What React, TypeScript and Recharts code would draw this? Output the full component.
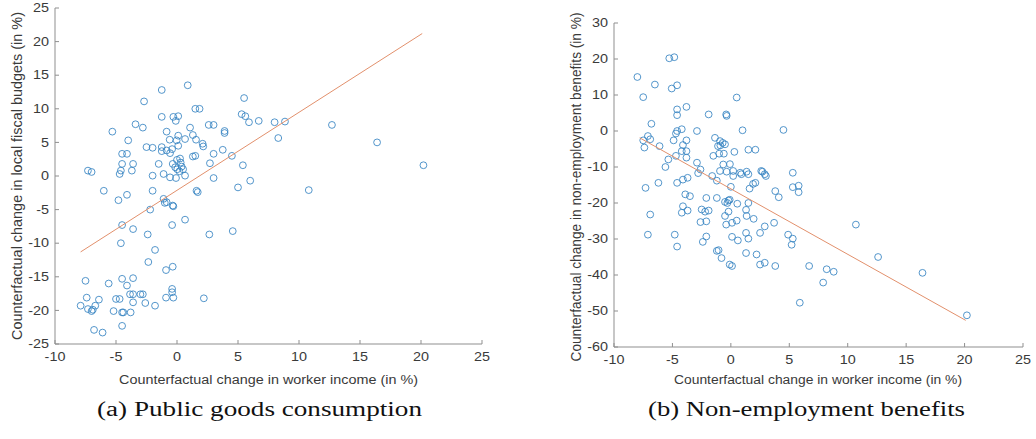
import React from "react";
import { ScatterChart, Scatter, XAxis, YAxis } from "recharts";

// shared x axis: change in worker income (%)
const incomeTicks = [-10, -5, 0, 5, 10, 15, 20, 25];
const budgetTicks = [-25, -20, -15, -10, -5, 0, 5, 10, 15, 20, 25];
const benefitTicks = [-60, -50, -40, -30, -20, -10, 0, 10, 20, 30];

// (a) public goods consumption
const incomeA = [
  -1.25, 0.88, -2.7, 5.5, 1.5, 1.85, -1.25, -0.3, 0.1, -0.1, 5.3, 5.6, 5.9, 6.7, -5.3, -3.4, -2.8, -0.85,
  1.07, 2.6, 3.0, 3.9, 3.9, 0.1, 1.3, 1.56, -0.03, -0.6, -4.0, 2.1, 2.15, -2.5, -2.0, -1.25, -0.85, -0.4,
  0.1, 0.66, -1.25, -0.57, -4.5, -4.1, 3.0, 3.75, 1.3, 1.5, 4.5, 0.3, 0.38, 0.02, 0.2, 0.5, -0.35, -1.5,
  -4.5, -3.6, -4.6, -3.7, -4.7, -7.3, -7.0, 2.7, 5.4, -2.0, -1.1, -0.57, -0.08, 0.66, 3.0, 6.0, 5.0, -6.0,
  -4.1, -4.8, -2.0, 1.6, 1.7, -1.1, -0.35, -0.85, -0.3, -2.2, -4.5, -3.6, -2.4, -0.4, 0.66, 2.65, 4.57,
  -4.6, -1.8, -2.35, -0.9, -0.35, -7.5, -5.6, -4.5, -3.6, -4.1, -7.4, -6.4, -7.9, -7.3, -6.9, -7.0, -6.7,
  -5.0, -4.7, -3.85, -3.6, -3.0, -2.8, -3.6, -2.6, -1.8, -5.2, -4.5, -4.4, -3.8, -0.9, -0.4, -0.4, -0.3,
  2.2, -6.8, -6.1, -4.5, 8.0, 8.85, 8.3, 12.7, 16.4, 10.8, 20.2, -1.0, 0.0, 0.25, -0.15,
];
const budgetA = [
  12.8, 13.5, 11.1, 11.6, 10.0, 10.0, 8.8, 8.8, 8.9, 8.2, 9.2, 8.9, 8.0, 8.2, 6.6, 7.7, 7.2, 6.6,
  7.2, 7.6, 7.6, 6.4, 6.7, 6.0, 6.1, 5.4, 5.3, 5.4, 5.3, 4.8, 4.4, 4.3, 4.2, 4.3, 3.8, 4.0,
  4.5, 5.5, 3.7, 3.4, 3.3, 3.3, 3.3, 3.9, 2.9, 3.0, 3.0, 2.0, 1.4, 1.0, 0.7, 1.0, 1.8, 1.8,
  1.8, 1.8, 0.8, 0.8, 0.3, 0.8, 0.6, 1.9, 1.6, 0.05, 0.3, -0.2, -0.3, 0.05, -0.3, -0.7, -1.7, -2.2,
  -2.8, -3.6, -2.2, -2.2, -2.4, -3.4, -4.4, -3.9, -4.5, -5.0, -7.3, -7.9, -8.7, -7.3, -6.5, -8.7, -8.2,
  -10.0, -11.0, -12.8, -14.0, -13.5, -15.6, -16.0, -15.3, -15.2, -16.3, -18.1, -18.4, -19.3, -19.8, -19.9, -20.1, -19.3,
  -18.3, -18.3, -17.6, -17.6, -17.6, -17.6, -18.8, -18.9, -19.3, -20.1, -20.3, -20.3, -20.3, -18.1, -17.3, -16.8, -18.1,
  -18.2, -22.9, -23.3, -22.3, 8.0, 8.1, 5.65, 7.6, 5.0, -2.1, 1.6, -4.0, 2.4, 2.6, 1.3,
];
const fitIncomeA = [-7.9, 20.1];
const fitBudgetA = [-11.3, 21.2];

// (b) non-employment benefits
const incomeB = [
  -5.27, -4.84, -8.0, -6.5, -5.06, -4.6, -7.5, 0.5, -4.6, -4.6, -3.8, -1.9, -0.4, -0.36, -6.8, -4.6, -4.2,
  -4.7, -2.9, 1.0, 4.5, -7.1, -7.5, -6.9, -7.4, -6.1, -4.9, -4.1, -3.8, -3.8, -4.2, -1.36, -0.93, -0.5,
  -1.1, -1.5, -1.0, -0.6, 1.5, 2.1, -4.7, -5.35, -3.8, -5.6, -2.9, -2.6, -2.8, -0.65, -0.08, -0.93, -0.36,
  0.2, 0.8, 1.35, 2.6, 2.9, 5.3, -6.2, -7.3, -4.6, -4.1, -3.7, -3.9, -3.5, -2.1, -1.2, -0.2, 0.2, 0.9,
  1.5, 1.9, 2.1, 3.0, 3.8, -4.1, -4.2, -3.7, -6.9, -7.1, -4.8, -4.6, -2.5, -2.2, -1.9, -2.6, -2.1, -2.1,
  -2.4, -1.2, -1.05, -0.8, -0.1, 0.1, -0.5, -0.3, -0.1, -0.5, -0.2, -0.4, 0.1, 0.5, 0.1, 0.6, 0.55, 1.6,
  1.5, 1.3, 1.35, 1.95, 1.3, 1.5, 1.3, 2.2, 2.5, 2.9, 3.8, 2.5, 2.9, 3.7, 4.1, 5.3, 5.8, 5.8, 4.9, 5.3,
  5.2, 6.7, 8.2, 8.8, 7.9, 5.9, 10.7, 12.6, 16.4, 20.2, 2.7, -0.9, -0.7, 0.3, -1.6, -1.2, 0.0,
];
const benefitB = [
  20.2, 20.5, 15.0, 12.9, 11.8, 12.7, 9.4, 9.3, 6.0, 4.4, 6.7, 4.6, 4.6, 4.2, 2.0, 0.0, 0.5,
  -0.7, 0.0, 0.2, 0.3, -1.4, -2.6, -2.3, -4.6, -4.2, -2.6, -3.9, -2.6, -5.6, -5.6, -1.9, -2.8, -3.7,
  -4.2, -6.9, -6.3, -6.3, -5.2, -5.2, -6.9, -7.9, -7.4, -10.0, -8.8, -10.7, -11.7, -9.3, -9.2, -11.1, -11.3,
  -11.1, -11.6, -11.3, -11.1, -12.0, -11.6, -14.4, -15.8, -14.4, -13.5, -13.0, -17.6, -18.1, -18.6, -18.6, -19.3, -12.5, -12.0,
  -12.0, -14.7, -14.4, -12.5, -16.7, -20.9, -22.7, -22.1, -23.2, -28.8, -28.8, -32.1, -21.8, -22.4, -22.1, -25.3, -25.1, -29.3,
  -30.8, -33.3, -33.1, -35.3, -37.1, -37.5, -19.7, -20.0, -19.1, -23.6, -22.4, -26.0, -25.5, -24.9, -29.4, -30.4, -20.2, -16.0,
  -20.0, -21.9, -23.6, -24.4, -28.3, -29.9, -33.9, -34.3, -37.1, -36.6, -37.5, -28.3, -26.5, -25.5, -18.4, -15.6, -15.2, -17.0, -28.8, -29.9,
  -31.6, -37.5, -38.4, -39.1, -42.1, -47.7, -26.0, -35.0, -39.4, -51.2, -11.3, -4.0, -3.3, -5.8, -12.5, -13.8, -15.5,
];
const fitIncomeB = [-7.8, 20.1];
const fitBenefitB = [-1.9, -52.6];

const pts = (xs: number[], ys: number[]) => xs.map((x, i) => ({ x, y: ys[i] }));

const AXIS = "#8f8f8f";
const TEXT = "#3a3a3a";
const SANS = "'Liberation Sans', Arial, sans-serif";

const Ring = (p: any) => (
  <circle cx={p.cx} cy={p.cy} r={3.4} fill="none" stroke="#3583c2" strokeWidth={0.85} />
);
const Nothing = () => <g />;

const XTick = (p: any) => (
  <text transform={`translate(${p.x},${p.y}) scale(1.2,1)`} dy="0.71em" textAnchor="middle" fontSize={12} fontFamily={SANS} fill={TEXT}>
    {p.payload.value}
  </text>
);
const YTick = (p: any) => (
  <text transform={`translate(${p.x},${p.y}) scale(1.2,1)`} dy="0.355em" textAnchor="end" fontSize={12} fontFamily={SANS} fill={TEXT}>
    {p.payload.value}
  </text>
);

function Panel({ width, margin, yWidth, yDomain, yTicks, data, fit }: any) {
  return (
    <ScatterChart width={width} height={400} margin={margin}>
      <XAxis type="number" dataKey="x" domain={[-10, 25]} ticks={incomeTicks} interval={0}
        stroke={AXIS} tickSize={-4} tickMargin={12} height={30} tick={<XTick />} />
      <YAxis type="number" dataKey="y" domain={yDomain} ticks={yTicks} interval={0}
        stroke={AXIS} tickSize={-4} tickMargin={10} width={yWidth} tick={<YTick />} />
      <Scatter data={data} shape={<Ring />} isAnimationActive={false} />
      <Scatter data={fit} shape={<Nothing />} line={{ stroke: "#e2906c", strokeWidth: 1 }} isAnimationActive={false} />
    </ScatterChart>
  );
}

export default function App() {
  return (
    <div style={{ position: "absolute", left: 0, top: 0, width: 1036, height: 439, background: "#fff" }}>
      <div style={{ position: "absolute", left: 0, top: 0 }}>
        <Panel width={500} margin={{ top: 8, right: 18, bottom: 26, left: 0 }} yWidth={55}
          yDomain={[-25, 25]} yTicks={budgetTicks}
          data={pts(incomeA, budgetA)} fit={pts(fitIncomeA, fitBudgetA)} />
      </div>
      <div style={{ position: "absolute", left: 560, top: 0 }}>
        <Panel width={476} margin={{ top: 23, right: 13, bottom: 23, left: 0 }} yWidth={54}
          yDomain={[-60, 30]} yTicks={benefitTicks}
          data={pts(incomeB, benefitB)} fit={pts(fitIncomeB, fitBenefitB)} />
      </div>
      <svg width={1036} height={439} style={{ position: "absolute", left: 0, top: 0, pointerEvents: "none" }}>
        <g fontFamily={SANS} fontSize={12} fill={TEXT}>
          <text x={268.5} y={384} textAnchor="middle" textLength={299} lengthAdjust="spacingAndGlyphs">
            Counterfactual change in worker income (in %)
          </text>
          <text x={818} y={384} textAnchor="middle" textLength={288} lengthAdjust="spacingAndGlyphs">
            Counterfactual change in worker income (in %)
          </text>
          <text transform="translate(21.5,176) scale(1.2,1) rotate(-90)" textAnchor="middle" textLength={328} lengthAdjust="spacingAndGlyphs">
            Counterfactual change in local fiscal budgets (in %)
          </text>
          <text transform="translate(581,187) scale(1.2,1) rotate(-90)" textAnchor="middle" textLength={349} lengthAdjust="spacingAndGlyphs">
            Counterfactual change in non-employment benefits (in %)
          </text>
        </g>
        <g fontFamily="'Liberation Serif', 'DejaVu Serif', serif" fontSize={20} fill="#111">
          <text x={259.5} y={416} textAnchor="middle" textLength={325} lengthAdjust="spacingAndGlyphs">
            (a) Public goods consumption
          </text>
          <text x={806.5} y={416} textAnchor="middle" textLength={317} lengthAdjust="spacingAndGlyphs">
            (b) Non-employment benefits
          </text>
        </g>
      </svg>
    </div>
  );
}
